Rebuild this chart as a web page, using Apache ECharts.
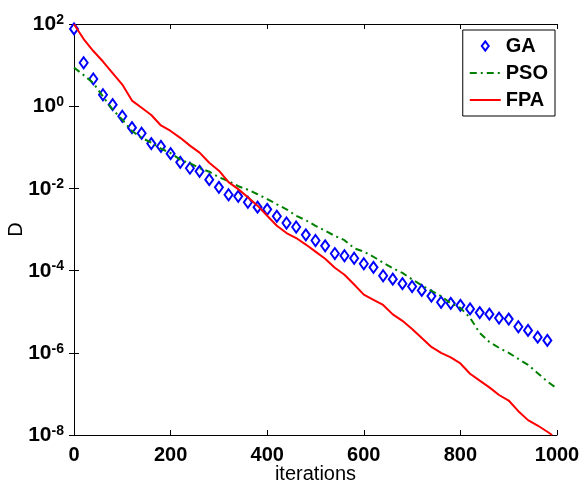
<!DOCTYPE html>
<html>
<head>
<meta charset="utf-8">
<script src="https://cdn.jsdelivr.net/npm/echarts@6/dist/echarts.min.js"></script>
<style>
  html, body { margin: 0; padding: 0; background: #fff; }
  #main { width: 586px; height: 484px; }
</style>
</head>
<body>
<div id="main"></div>
<script>
// iteration grid (every 20 iterations)
var iterations = [0, 20, 40, 60, 80, 100, 120, 140, 160, 180, 200, 220, 240, 260, 280, 300, 320, 340, 360, 380,
    400, 420, 440, 460, 480, 500, 520, 540, 560, 580, 600, 620, 640, 660, 680, 700, 720, 740, 760, 780,
    800, 820, 840, 860, 880, 900, 920, 940, 960, 980, 1000];

var gaValues = [76, 11.4, 4.6, 1.9, 1.09, 0.57, 0.30, 0.22, 0.123, 0.105,
    0.070, 0.043, 0.031, 0.026, 0.0163, 0.0106, 0.0070, 0.0064, 0.0046, 0.0035,
    0.0031, 0.0021, 0.00144, 0.00115, 7.4e-4, 5.4e-4, 4.0e-4, 2.6e-4, 2.3e-4, 2.0e-4,
    1.47e-4, 1.2e-4, 7.5e-5, 6.2e-5, 4.8e-5, 4.1e-5, 3.3e-5, 2.4e-5, 1.7e-5, 1.6e-5,
    1.43e-5, 1.17e-5, 9.5e-6, 8.7e-6, 7.0e-6, 6.6e-6, 4.3e-6, 3.5e-6, 2.4e-6, 2.0e-6];

var psoValues = [8.7, 5.7, 3.66, 1.71, 0.83, 0.47, 0.25, 0.17, 0.13, 0.093,
    0.072, 0.050, 0.041, 0.031, 0.0255, 0.0187, 0.015, 0.0113, 0.0093, 0.0072,
    0.0055, 0.0041, 0.0031, 0.00216, 0.00168, 0.00123, 9.3e-4, 7.0e-4, 5.5e-4, 3.5e-4,
    2.9e-4, 2.17e-4, 1.55e-4, 1.14e-4, 8.8e-5, 6.1e-5, 4.4e-5, 3.2e-5, 2.4e-5, 1.6e-5,
    1.24e-5, 7.1e-6, 3.05e-6, 1.84e-6, 1.32e-6, 1.0e-6, 7.1e-7, 5.1e-7, 3.2e-7, 2.0e-7,
    1.36e-7];

var fpaValues = [99, 43, 22, 12.2, 6.4, 3.36, 1.37, 0.92, 0.61, 0.34,
    0.25, 0.17, 0.11, 0.074, 0.042, 0.027, 0.0142, 0.0096, 0.0061, 0.0038,
    0.00216, 0.00123, 8.2e-4, 6.2e-4, 4.3e-4, 2.9e-4, 1.94e-4, 1.17e-4, 7.9e-5, 4.6e-5,
    2.6e-5, 1.95e-5, 1.46e-5, 8.6e-6, 6.0e-6, 3.8e-6, 2.3e-6, 1.39e-6, 1.0e-6, 7.7e-7,
    5.5e-7, 3.1e-7, 2.1e-7, 1.44e-7, 9.4e-8, 6.9e-8, 3.8e-8, 2.3e-8, 1.7e-8, 1.2e-8];
// FPA reaches the floor just before 1000
var fpaEnd = [990, 1e-8];

var xTicks = [0, 200, 400, 600, 800, 1000];
var yTicks = [1e-8, 1e-6, 1e-4, 1e-2, 1, 100];

function pairs(xs, ys){
    var out = [];
    for (var i = 0; i < ys.length; i++) out.push([xs[i], ys[i]]);
    return out;
}

var font = '"Liberation Sans", Arial, sans-serif';
// diamond inside a 31x11 box so the legend icon is not stretched
var legendDiamond = 'path://M0,0M31,11M15.5,0.8L19,5.5L15.5,10.2L12,5.5Z';

function drawChart(){
    var chart = echarts.init(document.getElementById('main'));
    var fpaData = pairs(iterations, fpaValues);
    fpaData.push(fpaEnd);

    var tick = { inside: true, length: 5, lineStyle: { color: '#000', width: 1 } };
    var line = { lineStyle: { color: '#000', width: 1 } };

    var option = {
        animation: false,
        backgroundColor: '#fff',
        grid: { left: 74, right: 29, top: 24, bottom: 49, containLabel: false, outerBoundsMode: 'none' },
        legend: {
            orient: 'vertical',
            right: 31,
            top: 30,
            backgroundColor: '#fff',
            borderColor: '#000',
            borderWidth: 1,
            borderRadius: 0,
            padding: [6, 7, 6, 6],
            itemWidth: 31,
            itemHeight: 11,
            itemGap: 7,
            textStyle: { fontFamily: font, fontSize: 20, fontWeight: 'bold', color: '#000', lineHeight: 20 },
            data: [
                { name: 'GA', icon: legendDiamond },
                { name: 'PSO', itemStyle: { opacity: 0 } },
                { name: 'FPA', itemStyle: { opacity: 0 } }
            ]
        },
        xAxis: [{
            type: 'value',
            min: 0, max: 1000, interval: 200,
            name: 'iterations',
            nameLocation: 'middle',
            nameGap: 29,
            nameMoveOverlap: false,
            nameTextStyle: { fontFamily: font, fontSize: 20, color: '#000' },
            axisLine: line,
            axisTick: tick,
            axisLabel: { fontFamily: font, fontSize: 20, fontWeight: 'bold', color: '#000', margin: 10,
                formatter: function (v) { return String(v); } },
            splitLine: { show: false }
        }, {
            type: 'value',
            position: 'top',
            min: 0, max: 1000, interval: 200,
            axisLine: line,
            axisTick: tick,
            axisLabel: { show: false },
            splitLine: { show: false }
        }],
        yAxis: [{
            type: 'log',
            logBase: 10,
            min: 1e-8, max: 100,
            name: 'D',
            nameLocation: 'middle',
            nameGap: 48,
            nameRotate: 90,
            nameMoveOverlap: false,
            nameTextStyle: { fontFamily: font, fontSize: 20, color: '#000' },
            axisLine: line,
            axisTick: { inside: true, length: 5, lineStyle: { color: '#000', width: 1 }, customValues: yTicks },
            axisLabel: {
                customValues: yTicks,
                margin: 10,
                formatter: function (v) {
                    var e = Math.round(Math.log(v) / Math.LN10);
                    return '{b|10}{s|' + e + '}';
                },
                rich: {
                    b: { fontSize: 21, fontWeight: 'bold', color: '#000', fontFamily: font,
                        lineHeight: 22, verticalAlign: 'bottom', padding: [6, 0, 0, 0] },
                    s: { fontSize: 14, fontWeight: 'bold', color: '#000', fontFamily: font,
                        lineHeight: 14, verticalAlign: 'top' }
                }
            },
            splitLine: { show: false },
            minorTick: { show: false }
        }, {
            type: 'log',
            logBase: 10,
            position: 'right',
            min: 1e-8, max: 100,
            axisLine: line,
            axisTick: { inside: true, length: 5, lineStyle: { color: '#000', width: 1 }, customValues: yTicks },
            axisLabel: { show: false, customValues: yTicks },
            splitLine: { show: false }
        }],
        series: [{
            name: 'GA',
            type: 'scatter',
            symbol: 'diamond',
            symbolSize: [8, 11],
            clip: false,
            itemStyle: { color: '#fff', borderColor: '#0000ff', borderWidth: 2, opacity: 1 },
            data: pairs(iterations, gaValues)
        }, {
            name: 'PSO',
            type: 'line',
            showSymbol: false,
            symbol: 'none',
            lineStyle: { color: '#008000', width: 2, type: [7, 4, 2, 4] },
            itemStyle: { color: '#008000' },
            data: pairs(iterations, psoValues)
        }, {
            name: 'FPA',
            type: 'line',
            showSymbol: false,
            symbol: 'none',
            lineStyle: { color: '#ff0000', width: 2 },
            itemStyle: { color: '#ff0000' },
            data: fpaData
        }]
    };

    chart.setOption(option);
}

drawChart();
</script>
</body>
</html>
